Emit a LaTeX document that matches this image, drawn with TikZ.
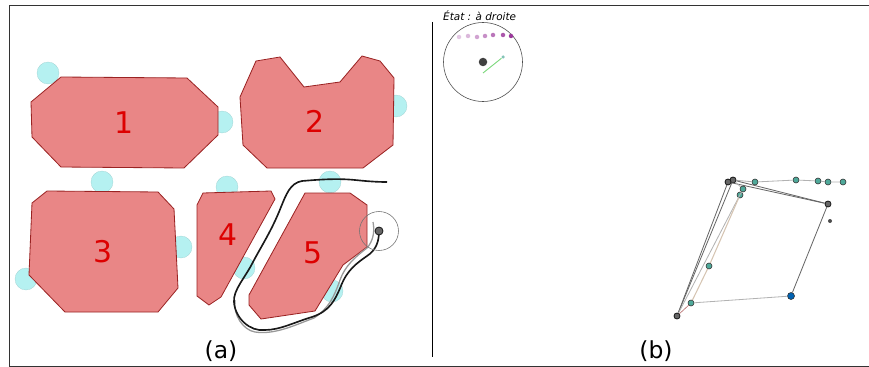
\documentclass[tikz,border=0pt]{standalone}
\usepackage{fontspec}
\setmainfont{DejaVu Sans}
\definecolor{obstfill}{HTML}{E98686}
\definecolor{obstedge}{HTML}{9A2323}
\definecolor{wall}{HTML}{B5F1F1}
\definecolor{numred}{HTML}{DD0000}
\definecolor{nodeteal}{HTML}{4FA99A}
\begin{document}
\begin{tikzpicture}[x=0.03cm, y=-0.03cm,
  obst/.style={draw=obstedge, fill=obstfill, line width=0.7pt},
  lidar/.style={circle, fill=wall, draw=wall!85!black, line width=0.2pt, inner sep=0pt, minimum size=22*0.03cm},
  num/.style={font=\fontsize{25.5}{28}\selectfont, text=numred, inner sep=0pt},
  captext/.style={font=\fontsize{20}{22}\selectfont, inner sep=0pt},
  track/.style={line width=1.4pt, draw=black!90},
  ghost/.style={line width=1.1pt, draw=black!40},
  gnode/.style={circle, draw=black!80, fill=nodeteal, line width=0.5pt, inner sep=0pt, minimum size=6*0.03cm},
  gdark/.style={circle, draw=black!90, fill=black!60, line width=0.7pt, inner sep=0pt, minimum size=6*0.03cm},
  gedge/.style={line width=0.7pt, draw=black!30},
  gstrong/.style={line width=0.7pt, draw=black!60},
  dotp/.style={circle, inner sep=0pt, minimum size=4.5*0.03cm},
]
\useasboundingbox (0,0) rectangle (869,367);

% ---------------------------------------------------------------- frame
\draw[line width=0.6pt, draw=black!80] (869,5.5) -- (9.5,5.5) -- (9.5,366) -- (869,366);
\coordinate (septop) at (432.5,22);
\coordinate (sepbot) at (432.5,357);
\draw[line width=0.6pt] (septop) -- (sepbot);

% ---------------------------------------------------------------- walls seen by the robot
\foreach \cx/\cy [count=\i] in {48/73, 222/122, 396/106, 102/182, 181/247, 26/279, 227/187, 244/268, 330/182, 332/291}
  \node[lidar] (wall\i) at (\cx,\cy) {};

% ---------------------------------------------------------------- obstacles
\draw[obst] (61,77) -- (187,78) -- (218,107) -- (218,135) -- (184,168) -- (61,167) -- (32,137) -- (31,102) -- cycle;
\draw[obst] (256,61) -- (280,57) -- (304,87) -- (340,82) -- (362,56) -- (380,61) -- (394,78) -- (393,145) -- (363,168) -- (267,168) -- (243,145) -- (240,97) -- cycle;
\draw[obst] (47,191) -- (158,192) -- (174,209) -- (178,288) -- (158,312) -- (65,312) -- (29,275) -- (32,203) -- cycle;
\draw[obst] (203,193) -- (271,191) -- (275,199) -- (221,297) -- (209,305) -- (197,296) -- (197,205) -- cycle;
\draw[obst] (305,193) -- (350,193) -- (367,205) -- (367,247) -- (343,265) -- (315,311) -- (261,319) -- (249,305) -- (249,295) -- cycle;
\node[num] (n1) at (124,123) {1};
\node[num] (n2) at (315,121) {2};
\node[num] (n3) at (103,252) {3};
\node[num] (n4) at (228,235) {4};
\node[num] (n5) at (313,253) {5};

% ---------------------------------------------------------------- trajectories
\draw[ghost] (373,222) .. controls (375,232) and (373,241) .. (367,248)
  .. controls (355,257) and (345,266) .. (340,280) .. controls (334,297) and (329,308) .. (314,318)
  .. controls (295,325) and (275,335) .. (255,332) .. controls (243,330) and (233,315) .. (235,300);
\draw[track] (387,182) .. controls (375,182) and (365,181) .. (355,180)
  .. controls (335,178) and (315,180) .. (302,181) .. controls (290,183) and (286,195) .. (281,207)
  .. controls (272,230) and (262,245) .. (253,262) .. controls (245,278) and (233,290) .. (234,302)
  .. controls (235,318) and (250,332) .. (265,330) .. controls (280,330) and (295,322) .. (312,317)
  .. controls (330,311) and (335,300) .. (341,286) .. controls (347,270) and (357,263) .. (367,256)
  .. controls (376,250) and (379,242) .. (379,231);

% ---------------------------------------------------------------- robot
\node[circle, draw=black!55, line width=0.5pt, inner sep=0pt, minimum size=39*0.03cm] (robot) at (379,231) {};
\node[gdark, minimum size=8*0.03cm] (robotc) at (379,231) {};

% ---------------------------------------------------------------- state inset
\node[font=\itshape\fontsize{8.9}{10}\selectfont, anchor=west, inner sep=0pt] (state) at (443,16) {État : à droite};
\node[circle, draw=black!70, line width=0.5pt, inner sep=0pt, minimum size=79*0.03cm] (dial) at (483,62) {};
\node[circle, fill=black!75, inner sep=0pt, minimum size=8.5*0.03cm] (dialc) at (483,62) {};
\coordinate (headtail) at (483,73);
\node[circle, fill=nodeteal!70, inner sep=0pt, minimum size=3.5*0.03cm] (headtip) at (503,57) {};
\draw[green!70!black!50, line width=0.8pt] (headtail) -- (headtip);
\foreach \cx/\cy/\pct [count=\i] in {459/37/22, 468/36/28, 477/37/36, 485/36/44, 493/35/54, 503/35/66, 511/36/78}
  \node[dotp, fill=violet!\pct!white] (pd\i) at (\cx,\cy) {};

% ---------------------------------------------------------------- graph
\node[gdark] (g1) at (733,180) {};
\node[gdark] (g2) at (728,182) {};
\node[gnode] (g3) at (755,182) {};
\node[gnode] (g4) at (796,180) {};
\node[gnode] (g5) at (818,181) {};
\node[gnode] (g6) at (828,182) {};
\node[gnode] (g7) at (843,182) {};
\node[gnode] (g8) at (743,189) {};
\node[gnode] (g9) at (740,195) {};
\node[gdark] (g10) at (828,204) {};
\node[circle, fill=black!70, inner sep=0pt, minimum size=4*0.03cm] (g11) at (830,221) {};
\node[gnode] (g12) at (709,266) {};
\node[gnode, fill=blue!45!cyan!70!black, minimum size=7*0.03cm] (g13) at (791,296) {};
\node[gnode] (g14) at (691,303) {};
\node[gdark] (g15) at (677,316) {};
\draw[gedge] (g1) -- (g3) -- (g4) -- (g5) -- (g6) -- (g7);
\draw[gstrong] (g1) -- (g10);
\draw[gstrong] (g2) -- (g10);
\draw[gedge] (g1) -- (g8) -- (g9);
\draw[gstrong] (g2) -- (g15);
\draw[gstrong] (g1) -- (g15);
\draw[gedge] (g8) -- (g15);
\draw[line width=0.9pt, draw=orange!45!black!30] (g9) -- (g12) -- (g14);
\draw[gedge] (g14) -- (g13);
\draw[gstrong] (g13) -- (g10);
\draw[draw=red!50!black!60, line width=0.5pt] (g14) -- (g15);

% ---------------------------------------------------------------- captions
\node[captext] (capa) at (221,351) {(a)};
\node[captext] (capb) at (656,351) {(b)};
\end{tikzpicture}
\end{document}
